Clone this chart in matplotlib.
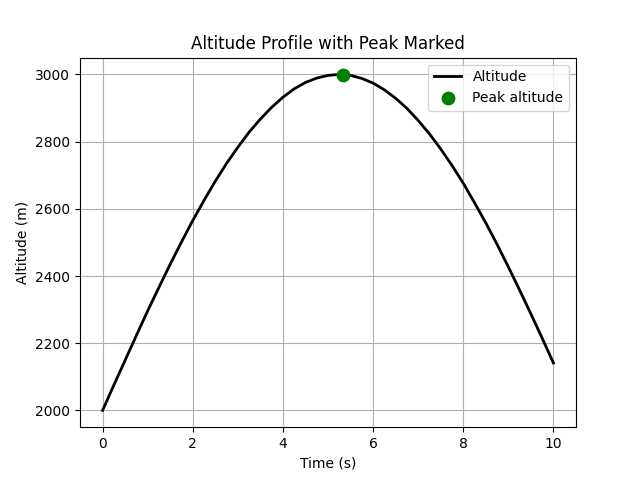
import matplotlib
matplotlib.use("Agg")
import matplotlib.pyplot as plt

# altitude, every 0.25 s
time = [i * 0.25 for i in range(41)]
altitude = [2000, 2075, 2149, 2223, 2296, 2366, 2435, 2501, 2565, 2625,
            2682, 2735, 2783, 2828, 2867, 2902, 2932, 2957, 2976, 2989,
            2997, 3000, 2997, 2988, 2974, 2954, 2929, 2899, 2863, 2823,
            2778, 2729, 2676, 2618, 2558, 2494, 2427, 2358, 2287, 2215,
            2141]

# the marked peak
peak_time = 5.33
peak_alt = 2999

fig, ax = plt.subplots(figsize=(6.4, 4.8), dpi=100)

ax.plot(time, altitude, color='black', linewidth=2, label='Altitude')
ax.scatter([peak_time], [peak_alt], color='green', s=80, zorder=3, label='Peak altitude')

ax.set_title('Altitude Profile with Peak Marked')
ax.set_xlabel('Time (s)')
ax.set_ylabel('Altitude (m)')
ax.grid(True)
ax.legend(loc='upper right')

fig.savefig('out.png')
